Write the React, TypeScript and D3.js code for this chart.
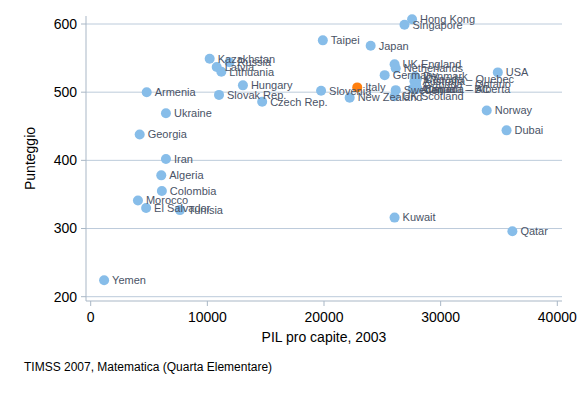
import React from "react";
import { scaleLinear } from "d3";

const countries = [
    "Hong Kong", "Singapore", "Taipei", "Japan", "Kazakhstan", "Russia", "Latvia", "Lithuania",
    "Hungary", "Armenia", "Slovak Rep.", "Czech Rep.", "Ukraine", "Georgia", "Iran", "Algeria",
    "Colombia", "Morocco", "El Salvador", "Tunisia", "Yemen", "Slovenia", "Italy", "New Zealand",
    "Germany", "UK England", "Netherlands", "Sweden", "UK Scotland", "Denmark", "Canada – Quebec",
    "Australia", "Canada – Ontario", "Austria", "Canada – BC", "Canada – Alberta", "USA", "Norway",
    "Dubai", "Kuwait", "Qatar",
];

const gdp = [
    27550, 26900, 19900, 24000, 10200, 11900, 10800, 11200,
    13050, 4800, 11000, 14700, 6450, 4200, 6450, 6050,
    6100, 4050, 4750, 7650, 1150, 19750, 22850, 22200,
    25200, 26050, 26150, 26150, 26050, 27800, 27950,
    27750, 27900, 27600, 27850, 28000, 34900, 33950,
    35650, 26050, 36150,
];

const score = [
    607, 599, 576, 568, 549, 544, 537, 530,
    510, 500, 496, 486, 469, 438, 402, 378,
    355, 341, 330, 327, 224, 502, 507, 492,
    525, 541, 535, 503, 494, 523, 519,
    516, 512, 505, 505, 505, 529, 473,
    444, 316, 296,
];

const highlight = "Italy";

const xTicks = [0, 10000, 20000, 30000, 40000];
const yTicks = [200, 300, 400, 500, 600];

const W = 578;
const H = 396;

export default function App() {
    const x = scaleLinear().domain([0, 40000]).range([90.7, 557.3]);
    const y = scaleLinear().domain([200, 600]).range([296.7, 24]);

    const left = 86;
    const right = 562;
    const top = 16;
    const bottom = 301;

    const points = countries.map((c, i) => ({ name: c, gx: gdp[i], sc: score[i] }));
    // Italy goes last so it sits on top
    const ordered = [...points.filter((p) => p.name !== highlight), ...points.filter((p) => p.name === highlight)];

    return (
        <svg
            width={W}
            height={H}
            style={{ position: "absolute", left: 0, top: 0, background: "#fff" }}
            fontFamily="Arial, 'Liberation Sans', sans-serif"
        >
            <rect width={W} height={H} fill="#fff" />

            {/* grid */}
            {yTicks.map((t) => (
                <line key={t} x1={left} x2={right} y1={y(t)} y2={y(t)} stroke="#bccbdb" strokeWidth={1} />
            ))}

            {/* axes */}
            <line x1={left} x2={left} y1={top} y2={bottom} stroke="#a9b7c6" />
            <line x1={left} x2={right} y1={bottom} y2={bottom} stroke="#a9b7c6" />

            {yTicks.map((t) => (
                <g key={t}>
                    <line x1={left - 5} x2={left} y1={y(t)} y2={y(t)} stroke="#a9b7c6" />
                    <text x={77} y={y(t)} dy="0.35em" textAnchor="end" fontSize={14} fill="#000">
                        {t}
                    </text>
                </g>
            ))}
            {xTicks.map((t) => (
                <g key={t}>
                    <line x1={x(t)} x2={x(t)} y1={bottom} y2={bottom + 5} stroke="#a9b7c6" />
                    <text x={x(t)} y={322} textAnchor="middle" fontSize={14} fill="#000">
                        {t}
                    </text>
                </g>
            ))}

            <text
                transform={`translate(35,${(top + bottom) / 2}) rotate(-90)`}
                textAnchor="middle"
                fontSize={14}
                fill="#000"
            >
                Punteggio
            </text>
            <text x={324} y={342} textAnchor="middle" fontSize={14} fill="#000">
                PIL pro capite, 2003
            </text>
            <text x={24} y={371} fontSize={12} fill="#000">
                TIMSS 2007, Matematica (Quarta Elementare)
            </text>

            {/* points */}
            {ordered.map((p) => (
                <circle
                    key={p.name}
                    cx={x(p.gx)}
                    cy={y(p.sc)}
                    r={5}
                    fill={p.name === highlight ? "#ff7f0e" : "#87bde9"}
                />
            ))}
            {ordered.map((p) => (
                <text
                    key={p.name}
                    x={x(p.gx) + 8}
                    y={y(p.sc)}
                    dy="0.35em"
                    fontSize={11}
                    fill="#4a5366"
                >
                    {p.name}
                </text>
            ))}
        </svg>
    );
}
